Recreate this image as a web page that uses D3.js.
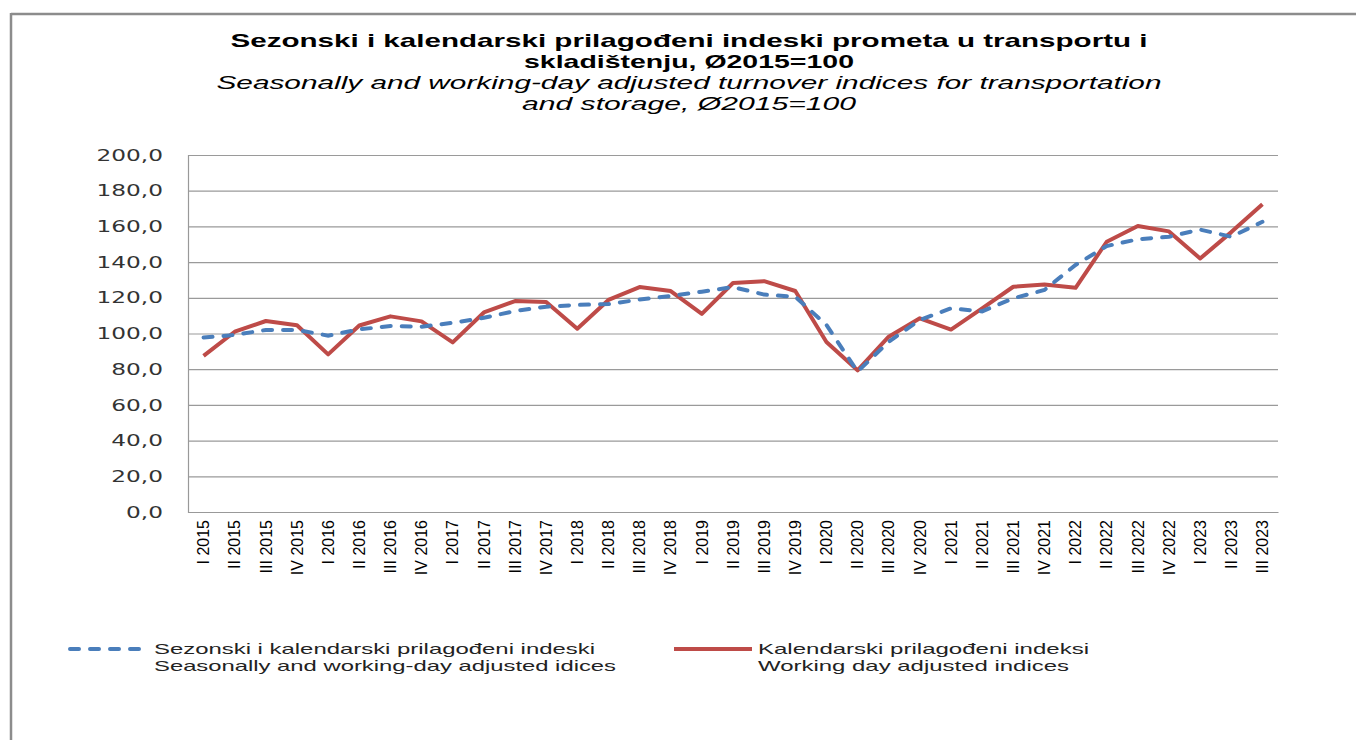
<!DOCTYPE html>
<html>
<head>
<meta charset="utf-8">
<script src="https://cdn.jsdelivr.net/npm/d3@7"></script>
<style>
  body { margin: 0; background: #fff; }
  svg { display: block; }
</style>
</head>
<body>
<svg id="chart" width="1356" height="740"></svg>
<script>
// quarters, I 2015 .. III 2023
var quarters = ['I 2015','II 2015','III 2015','IV 2015',
                'I 2016','II 2016','III 2016','IV 2016',
                'I 2017','II 2017','III 2017','IV 2017',
                'I 2018','II 2018','III 2018','IV 2018',
                'I 2019','II 2019','III 2019','IV 2019',
                'I 2020','II 2020','III 2020','IV 2020',
                'I 2021','II 2021','III 2021','IV 2021',
                'I 2022','II 2022','III 2022','IV 2022',
                'I 2023','II 2023','III 2023'];

// seasonally and working-day adjusted
var seasonal = [97.7, 99.2, 102.0, 102.0, 98.8, 102.3, 104.2, 103.8,
                106.0, 108.8, 112.6, 115.0, 116.0, 116.5, 119.0, 121.0,
                123.4, 126.0, 121.8, 120.6, 104.8, 78.6, 95.4, 107.6,
                114.1, 112.4, 119.7, 124.4, 138.4, 149.0, 152.8, 154.2,
                158.2, 154.2, 162.6];

// working-day adjusted
var working = [87.5, 101.0, 107.0, 104.6, 88.3, 104.5, 109.6, 106.8,
               95.0, 111.8, 118.2, 117.6, 102.7, 118.8, 126.0, 123.8,
               111.0, 128.3, 129.3, 123.8, 95.2, 79.4, 98.2, 108.5,
               102.2, 114.1, 126.2, 127.4, 125.6, 151.4, 160.2, 157.2,
               142.0, 156.8, 172.4];

var yTicks = [0, 20, 40, 60, 80, 100, 120, 140, 160, 180, 200];

var titleLines = [
  {text: 'Sezonski i kalendarski prilagođeni indeski prometa u transportu i', w: 917, style: 'normal', weight: 'bold'},
  {text: 'skladištenju, Ø2015=100', w: 330, style: 'normal', weight: 'bold'},
  {text: 'Seasonally and working-day adjusted turnover indices for transportation', w: 945, style: 'italic', weight: 'normal'},
  {text: 'and storage, Ø2015=100', w: 334, style: 'italic', weight: 'normal'}
];

var legendItems = [
  {lines: ['Sezonski i kalendarski prilagođeni indeski', 'Seasonally and working-day adjusted idices'], widths: [441, 462], color: '#4A7EBB', dash: '9,11', x: 68},
  {lines: ['Kalendarski prilagođeni indeksi', 'Working day adjusted indices'], widths: [331, 311], color: '#BE4B48', dash: null, x: 672}
];

var svg = d3.select('#chart');
var plotLeft = 188, plotRight = 1278, plotTop = 155, plotBottom = 512;

// frame
svg.append('line').attr('x1', 11).attr('x2', 1356).attr('y1', 14).attr('y2', 14)
    .attr('stroke', '#8c8c8c').attr('stroke-width', 2.5);
svg.append('line').attr('x1', 11).attr('x2', 11).attr('y1', 13).attr('y2', 740)
    .attr('stroke', '#8c8c8c').attr('stroke-width', 2.5);

// title
svg.append('g').selectAll('text')
    .data(titleLines)
    .enter()
    .append('text')
    .attr('x', 689)
    .attr('y', function(d, i) { return 47 + i * 21; })
    .attr('text-anchor', 'middle')
    .attr('font-family', 'Liberation Sans, Arial, sans-serif')
    .attr('font-size', 19)
    .attr('font-weight', function(d) { return d.weight; })
    .attr('font-style', function(d) { return d.style; })
    .attr('textLength', function(d) { return d.w; })
    .attr('lengthAdjust', 'spacingAndGlyphs')
    .attr('fill', '#000')
    .text(function(d) { return d.text; });

var x = d3.scaleBand().domain(quarters).range([plotLeft, plotRight]);
var y = d3.scaleLinear().domain([0, 200]).range([plotBottom, plotTop]);
var cx = function(d, i) { return x(quarters[i]) + x.bandwidth() / 2; };

// grid + y axis
var yAxis = svg.append('g')
    .attr('transform', 'translate(' + plotLeft + ',0)')
    .call(d3.axisLeft(y)
        .tickValues(yTicks)
        .tickSize(-(plotRight - plotLeft))
        .tickPadding(25)
        .tickFormat(function(v) { return d3.format('.1f')(v).replace('.', ','); }));
yAxis.select('.domain').attr('stroke', '#999').attr('stroke-width', 1.2);
yAxis.selectAll('.tick line').attr('stroke', '#9a9a9a').attr('stroke-width', 1.2);
yAxis.selectAll('.tick text')
    .attr('font-family', 'DejaVu Sans, Verdana, sans-serif')
    .attr('font-size', 16)
    .attr('fill', '#333')
    .each(function() {
        // the reference glyphs are stretched wide
        var w = this.getComputedTextLength();
        d3.select(this).attr('textLength', w * 1.45).attr('lengthAdjust', 'spacingAndGlyphs');
    });

// x axis
var xAxis = svg.append('g')
    .attr('transform', 'translate(0,' + plotBottom + ')')
    .call(d3.axisBottom(x).tickSize(0));
xAxis.select('.domain').attr('stroke', '#999').attr('stroke-width', 1.2);
xAxis.selectAll('.tick text')
    .attr('font-family', 'Liberation Sans, Arial, sans-serif')
    .attr('font-size', 16)
    .attr('fill', '#000')
    .attr('text-anchor', 'end')
    .attr('transform', 'rotate(-90)')
    .attr('x', -8)
    .attr('y', 0)
    .attr('dy', '0.36em');

// lines
var valueLine = d3.line().x(cx).y(function(d) { return y(d); });

svg.append('path')
    .datum(working)
    .attr('fill', 'none')
    .attr('stroke', '#BE4B48')
    .attr('stroke-width', 4)
    .attr('stroke-linejoin', 'round')
    .attr('d', valueLine);

svg.append('path')
    .datum(seasonal)
    .attr('fill', 'none')
    .attr('stroke', '#4A7EBB')
    .attr('stroke-width', 4)
    .attr('stroke-linecap', 'round')
    .attr('stroke-dasharray', '9,11')
    .attr('d', valueLine);

// legend
var legend = svg.append('g').selectAll('g')
    .data(legendItems)
    .enter()
    .append('g');

legend.append('line')
    .attr('x1', function(d) { return d.x + 2; })
    .attr('x2', function(d) { return d.x + 80; })
    .attr('y1', 649).attr('y2', 649)
    .attr('stroke', function(d) { return d.color; })
    .attr('stroke-width', 4)
    .attr('stroke-linecap', function(d) { return d.dash ? 'round' : 'butt'; })
    .attr('stroke-dasharray', function(d) { return d.dash; });

legend.each(function(d) {
    var g = d3.select(this);
    d.lines.forEach(function(t, i) {
        g.append('text')
            .attr('x', d.x + 86)
            .attr('y', 654 + i * 17)
            .attr('font-family', 'Liberation Sans, Arial, sans-serif')
            .attr('font-size', 15)
            .attr('fill', '#222')
            .attr('textLength', d.widths[i])
            .attr('lengthAdjust', 'spacingAndGlyphs')
            .text(t);
    });
});
</script>
</body>
</html>
